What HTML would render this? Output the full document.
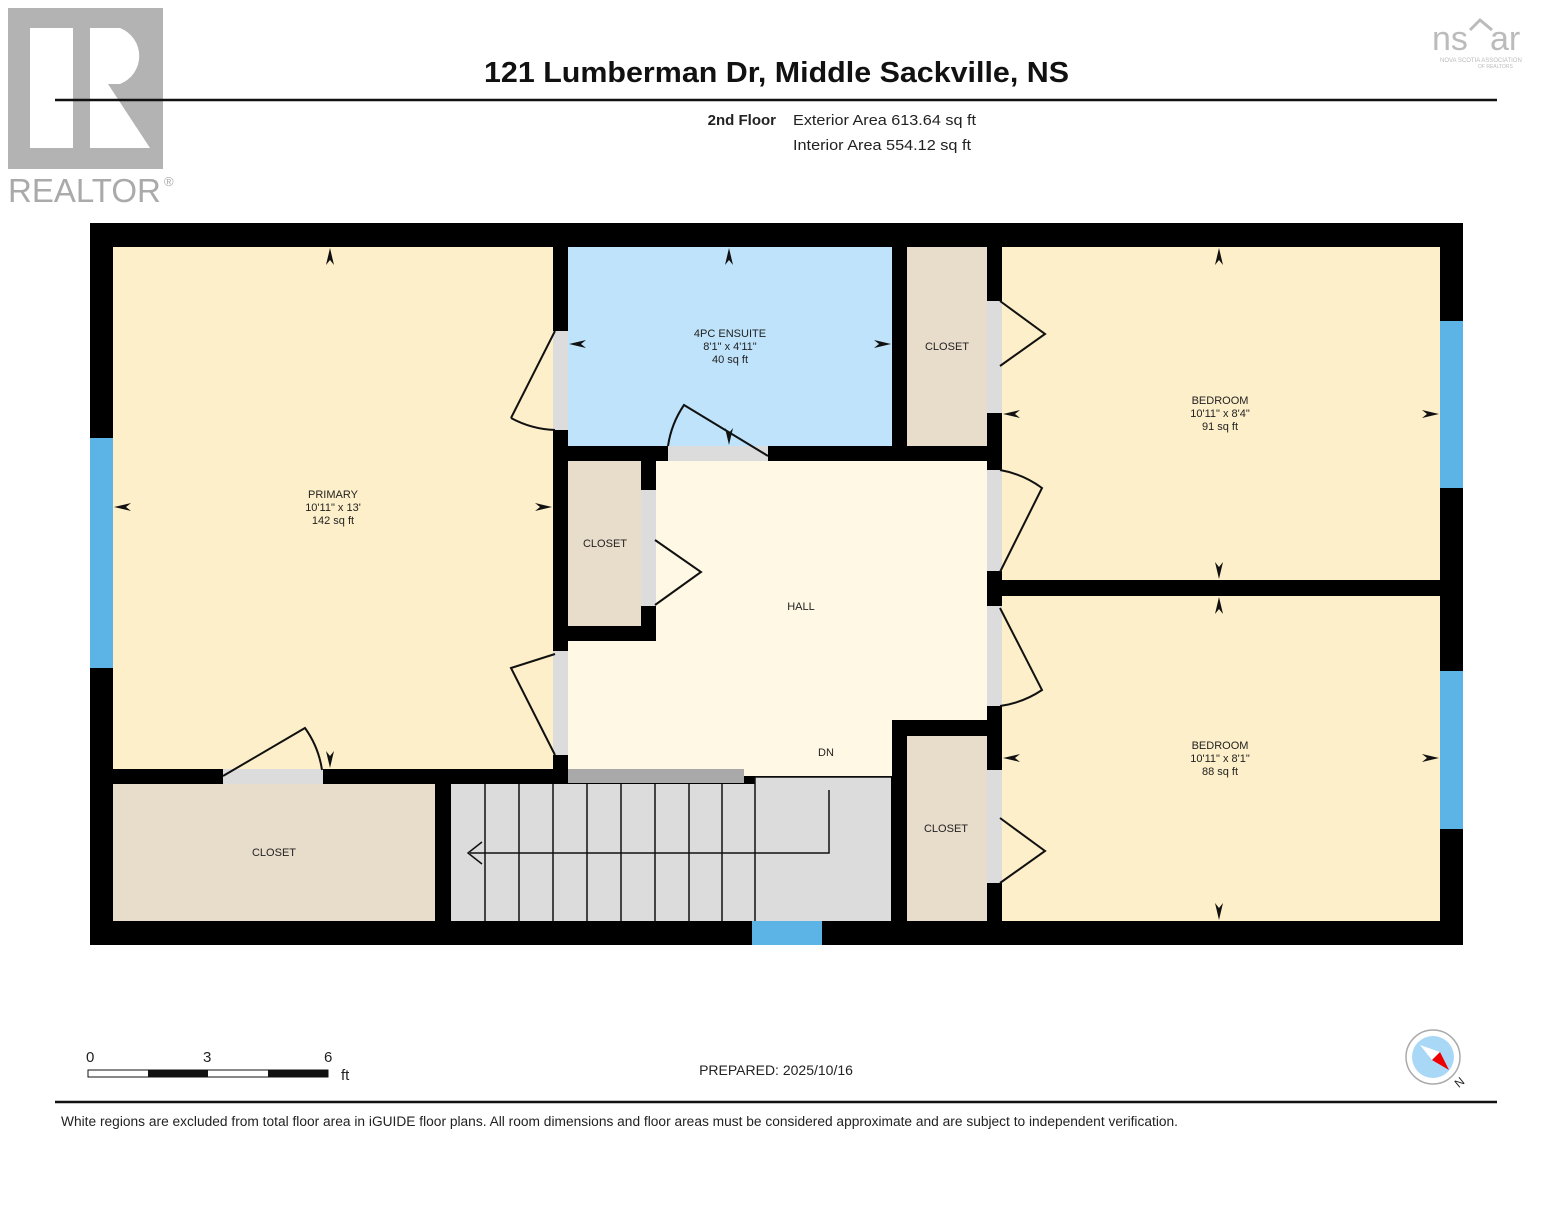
<!DOCTYPE html>
<html><head><meta charset="utf-8"><style>
body{margin:0;background:#fff;}
svg text{font-family:"Liberation Sans",Arial,sans-serif;}
</style></head><body>
<svg width="1553" height="1200" viewBox="0 0 1553 1200" xmlns="http://www.w3.org/2000/svg">
<rect width="1553" height="1200" fill="#fff"/>
<!-- realtor logo -->
<rect x="8" y="8" width="155" height="161" fill="#b3b3b3"/>
<rect x="30" y="28" width="43" height="120" fill="#fff"/>
<path d="M90 28 H120 A30 30 0 0 1 120 84 H108 L150 148 H90 Z" fill="#fff"/>
<text x="8" y="202" font-size="33" fill="#aaa">REALTOR</text>
<text x="164" y="186" font-size="13" fill="#aaa">®</text>
<!-- nsar -->
<text x="1432" y="50" font-size="34" fill="#bbb">ns</text><text x="1490" y="50" font-size="34" fill="#bbb">ar</text>
<path d="M1470 30 L1480 20 L1492 30" stroke="#bbb" stroke-width="3" fill="none"/>
<text x="1440" y="62" font-size="6" fill="#bbb">NOVA SCOTIA ASSOCIATION</text>
<text x="1478" y="68" font-size="5" fill="#bbb">OF REALTORS</text>
<text x="484" y="82" font-size="29" font-weight="bold" fill="#111" textLength="585" lengthAdjust="spacingAndGlyphs">121 Lumberman Dr, Middle Sackville, NS</text>
<line x1="55" y1="100" x2="1497" y2="100" stroke="#111" stroke-width="2.5"/>
<text x="776" y="125" font-size="15" font-weight="bold" text-anchor="end" fill="#222">2nd Floor</text>
<text x="793" y="125" font-size="15" fill="#222" textLength="183" lengthAdjust="spacingAndGlyphs">Exterior Area 613.64 sq ft</text>
<text x="793" y="150" font-size="15" fill="#222" textLength="178" lengthAdjust="spacingAndGlyphs">Interior Area 554.12 sq ft</text>
<!-- building -->
<rect x="90" y="223" width="1373" height="722" fill="#000"/>
<rect x="113" y="247" width="440" height="522" fill="#fdefc9"/>
<rect x="568" y="247" width="324" height="199" fill="#bee3fa"/>
<rect x="907" y="247" width="80" height="199" fill="#e8dccb"/>
<rect x="1002" y="247" width="438" height="333" fill="#fdefc9"/>
<rect x="1002" y="596" width="438" height="325" fill="#fdefc9"/>
<rect x="568" y="461" width="419" height="308" fill="#fef8e4"/>
<rect x="656" y="461" width="331" height="315" fill="#fef8e4"/>
<rect x="892" y="720" width="95" height="60" fill="#000"/>
<rect x="568" y="461" width="88" height="180" fill="#000"/>
<rect x="568" y="461" width="73" height="165" fill="#e8dccb"/>
<rect x="907" y="736" width="80" height="185" fill="#e8dccb"/>
<rect x="113" y="784" width="322" height="137" fill="#e8dccb"/>
<rect x="451" y="784" width="304" height="137" fill="#dcdcdc"/>
<rect x="755" y="777" width="136" height="144" fill="#dcdcdc"/>
<rect x="568" y="769" width="176" height="14" fill="#a9a9a9"/>
<g stroke="#111" stroke-width="1.5">
<line x1="485" y1="784" x2="485" y2="921"/><line x1="519" y1="784" x2="519" y2="921"/><line x1="553" y1="784" x2="553" y2="921"/><line x1="587" y1="784" x2="587" y2="921"/><line x1="621" y1="784" x2="621" y2="921"/><line x1="655" y1="784" x2="655" y2="921"/><line x1="689" y1="784" x2="689" y2="921"/><line x1="722" y1="784" x2="722" y2="921"/><line x1="755" y1="777" x2="755" y2="921"/>
<line x1="755" y1="777" x2="891" y2="777"/>
<polyline points="829,790 829,853 470,853" fill="none"/>
<polyline points="482,842 468,853 482,864" fill="none"/>
</g>
<!-- windows -->
<g fill="#5bb4e5"><rect x="90" y="438" width="23" height="230"/><rect x="1440" y="321" width="23" height="167"/><rect x="1440" y="671" width="23" height="158"/><rect x="752" y="921" width="70" height="24"/></g>
<!-- door gaps -->
<g fill="#dcdcdc">
<rect x="553" y="331" width="15" height="99"/><rect x="553" y="651" width="15" height="104"/>
<rect x="223" y="769" width="100" height="15"/><rect x="668" y="446" width="100" height="15"/>
<rect x="641" y="490" width="15" height="116"/>
<rect x="987" y="301" width="15" height="112"/><rect x="987" y="470" width="15" height="101"/>
<rect x="987" y="606" width="15" height="100"/><rect x="987" y="770" width="15" height="113"/>
</g>
<g stroke="#111" stroke-width="2" fill="none">
<path d="M555 331 L511 418 M511 418 A99 99 0 0 0 555 430"/>
<path d="M555 654 L511 668 L555 755 M511 668"/>
<path d="M223 776 L305 728 A96 96 0 0 1 322 770"/>
<path d="M768 456 L684 405 A98 98 0 0 0 668 446"/>
<path d="M655 540 L701 572 L655 605"/>
<path d="M1000 301 L1045 334 L1000 366"/>
<path d="M1000 572 L1042 488 A100 100 0 0 0 1000 470"/>
<path d="M1000 608 L1042 690 A100 100 0 0 1 1000 706"/>
<path d="M1000 818 L1045 851 L1000 883"/>
</g>
<!-- dimension arrows -->
<g fill="#111">
<path d="M330 248 l-4 17 l4 -5 l4 5z"/><path d="M330 768 l-4 -17 l4 5 l4 -5z"/>
<path d="M114 507 l17 -4 l-5 4 l5 4z"/><path d="M552 507 l-17 -4 l5 4 l-5 4z"/>
<path d="M729 248 l-4 17 l4 -5 l4 5z"/><path d="M729 445 l-4 -17 l4 5 l4 -5z"/>
<path d="M569 344 l17 -4 l-5 4 l5 4z"/><path d="M891 344 l-17 -4 l5 4 l-5 4z"/>
<path d="M1219 248 l-4 17 l4 -5 l4 5z"/><path d="M1219 579 l-4 -17 l4 5 l4 -5z"/>
<path d="M1003 414 l17 -4 l-5 4 l5 4z"/><path d="M1439 414 l-17 -4 l5 4 l-5 4z"/>
<path d="M1219 597 l-4 17 l4 -5 l4 5z"/><path d="M1219 920 l-4 -17 l4 5 l4 -5z"/>
<path d="M1003 758 l17 -4 l-5 4 l5 4z"/><path d="M1439 758 l-17 -4 l5 4 l-5 4z"/>
</g>
<g font-size="11" fill="#222" text-anchor="middle">
<text x="333" y="498">PRIMARY</text><text x="333" y="511">10'11" x 13'</text><text x="333" y="524">142 sq ft</text>
<text x="730" y="337">4PC ENSUITE</text><text x="730" y="350">8'1" x 4'11"</text><text x="730" y="363">40 sq ft</text>
<text x="947" y="350">CLOSET</text>
<text x="1220" y="404">BEDROOM</text><text x="1220" y="417">10'11" x 8'4"</text><text x="1220" y="430">91 sq ft</text>
<text x="1220" y="749">BEDROOM</text><text x="1220" y="762">10'11" x 8'1"</text><text x="1220" y="775">88 sq ft</text>
<text x="605" y="547">CLOSET</text><text x="801" y="610">HALL</text><text x="826" y="756">DN</text>
<text x="946" y="832">CLOSET</text><text x="274" y="856">CLOSET</text>
</g>
<!-- scale -->
<text x="86" y="1062" font-size="15" fill="#222">0</text><text x="203" y="1062" font-size="15" fill="#222">3</text><text x="324" y="1062" font-size="15" fill="#222">6</text><text x="341" y="1080" font-size="15" fill="#222">ft</text>
<rect x="88" y="1070" width="240" height="7" fill="#fff" stroke="#111" stroke-width="1"/>
<rect x="148" y="1070" width="60" height="7" fill="#111"/><rect x="268" y="1070" width="60" height="7" fill="#111"/>
<text x="776" y="1075" font-size="14" text-anchor="middle" fill="#222">PREPARED: 2025/10/16</text>
<circle cx="1433" cy="1057" r="27" fill="#fff" stroke="#aaa" stroke-width="1.5"/>
<circle cx="1433" cy="1057" r="21" fill="#a8d8f5"/>
<path d="M1420 1045 L1440 1052 L1432 1060Z" fill="#fff"/><path d="M1440 1052 L1449 1070 L1432 1060Z" fill="#e00"/>
<text x="1455" y="1086" font-size="12" fill="#222" transform="rotate(-40 1460 1082)">N</text>
<line x1="55" y1="1102" x2="1497" y2="1102" stroke="#111" stroke-width="2.5"/>
<text x="61" y="1126" font-size="13.5" fill="#222" textLength="1117" lengthAdjust="spacingAndGlyphs">White regions are excluded from total floor area in iGUIDE floor plans. All room dimensions and floor areas must be considered approximate and are subject to independent verification.</text>
</svg>
</body></html>
